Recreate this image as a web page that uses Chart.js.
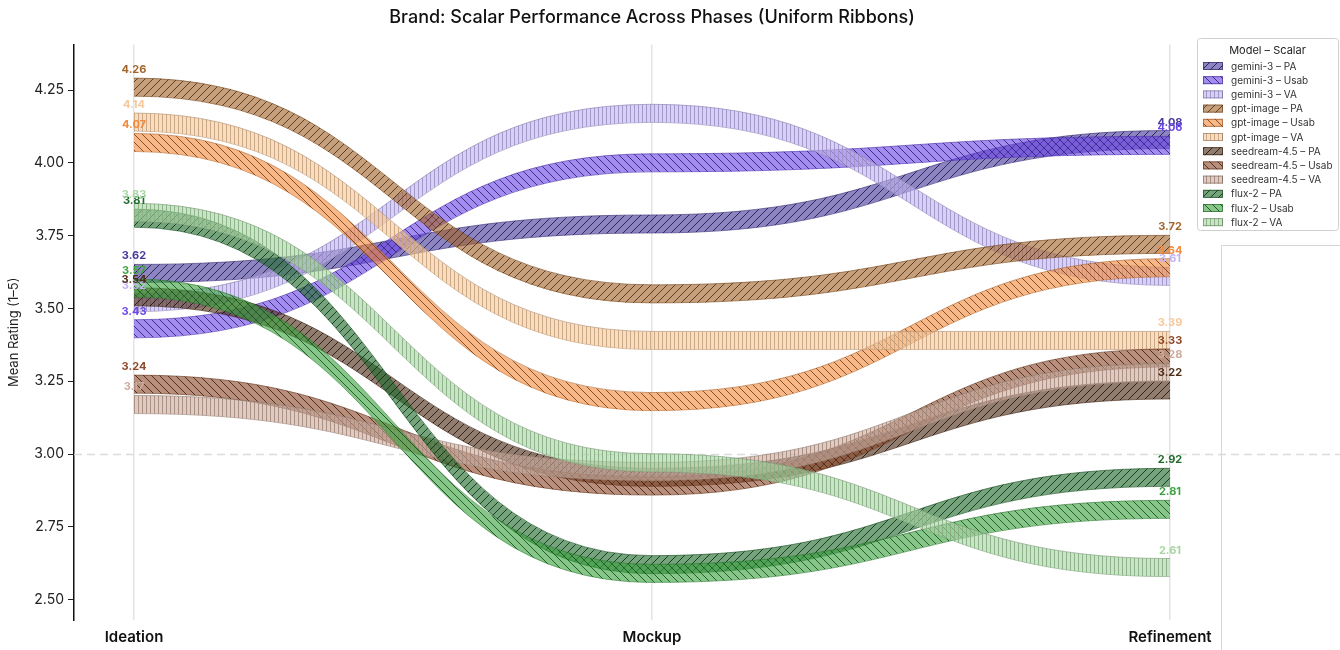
<!DOCTYPE html>
<html>
<head>
<meta charset="utf-8">
<script src="https://cdn.jsdelivr.net/npm/chart.js@4.4.1/dist/chart.umd.min.js"></script>
<style>
  html, body { margin: 0; padding: 0; background: #fff; }
  #wrap { width: 1340px; height: 650px; }
</style>
</head>
<body>
<div id="wrap"><canvas id="myChart" width="1340" height="650"></canvas></div>
<script>
// phases on the x axis
const phases = ['Ideation', 'Mockup', 'Refinement'];
const models = ['gemini-3', 'gpt-image', 'seedream-4.5', 'flux-2'];
const scalars = ['PA', 'Usab', 'VA'];

// mean ratings per phase (Ideation, Mockup, Refinement)
const gemini3PA = [3.62, 3.79, 4.08];
const gemini3Usab = [3.43, 4.00, 4.06];
const gemini3VA = [3.52, 4.17, 3.61];
const gptImagePA = [4.26, 3.55, 3.72];
const gptImageUsab = [4.07, 3.18, 3.64];
const gptImageVA = [4.14, 3.39, 3.39];
const seedreamPA = [3.54, 2.92, 3.22];
const seedreamUsab = [3.24, 2.89, 3.33];
const seedreamVA = [3.17, 2.94, 3.28];
const fluxPA = [3.81, 2.62, 2.92];
const fluxUsab = [3.57, 2.59, 2.81];
const fluxVA = [3.83, 2.97, 2.61];

const yTicks = [2.50, 2.75, 3.00, 3.25, 3.50, 3.75, 4.00, 4.25];

const series = [gemini3PA, gemini3Usab, gemini3VA, gptImagePA, gptImageUsab, gptImageVA,
                seedreamPA, seedreamUsab, seedreamVA, fluxPA, fluxUsab, fluxVA];

// colours, one per series
const colors = ['#473a9c', '#6c47e8', '#c2b3f3', '#a3642c', '#f28a3c', '#f6c89b',
                '#4e2d17', '#8d4b2b', '#cbab9c', '#1f6b2c', '#3ca341', '#a7d5a2'];

const halfWidth = 0.031; // ribbon half thickness (rating units)
const FONT = 'Inter, "DejaVu Sans", sans-serif';

function hexRgb(h) {
    return [parseInt(h.slice(1, 3), 16), parseInt(h.slice(3, 5), 16), parseInt(h.slice(5, 7), 16)];
}
function rgba(h, a, f) {
    f = f || 1;
    const c = hexRgb(h).map(v => Math.round(v * f));
    return `rgba(${c[0]},${c[1]},${c[2]},${a})`;
}

const ctx = document.getElementById('myChart').getContext('2d');

// hatched fill: PA = "/", Usab = "\", VA = "|"
function makePattern(color, kind) {
    const c = document.createElement('canvas');
    const s = kind === 'VA' ? 4 : 8;
    c.width = s; c.height = s;
    const g = c.getContext('2d');
    g.fillStyle = rgba(color, 0.62);
    g.fillRect(0, 0, s, s);
    g.strokeStyle = kind === 'VA' ? rgba(color, 0.9, 0.82) : rgba(color, 0.9, 0.5);
    g.lineWidth = 1;
    g.beginPath();
    if (kind === 'VA') {
        g.moveTo(2.5, 0); g.lineTo(2.5, s);
    } else if (kind === 'PA') {
        g.moveTo(0, s); g.lineTo(s, 0);
        g.moveTo(-1, 1); g.lineTo(1, -1);
        g.moveTo(s - 1, s + 1); g.lineTo(s + 1, s - 1);
    } else {
        g.moveTo(0, 0); g.lineTo(s, s);
        g.moveTo(-1, s - 1); g.lineTo(1, s + 1);
        g.moveTo(s - 1, -1); g.lineTo(s + 1, 1);
    }
    g.stroke();
    return ctx.createPattern(c, 'repeat');
}

const patterns = series.map((s, k) => makePattern(colors[k], scalars[k % 3]));
const names = series.map((s, k) => `${models[Math.floor(k / 3)]} \u2013 ${scalars[k % 3]}`);

// two edge lines per ribbon, upper one filled down to the lower one
const datasets = [];
series.forEach((vals, k) => {
    const common = {
        borderColor: rgba(colors[k], 0.75, 0.7),
        borderWidth: 0.8,
        pointRadius: 0,
        pointHoverRadius: 0,
        tension: 0.4,
        order: series.length - k
    };
    datasets.push(Object.assign({
        label: names[k],
        data: vals.map((v, i) => ({ x: i, y: v + halfWidth })),
        fill: '+1',
        backgroundColor: patterns[k]
    }, common));
    datasets.push(Object.assign({
        label: names[k] + ' low',
        data: vals.map((v, i) => ({ x: i, y: v - halfWidth })),
        fill: false
    }, common));
});

// make every ribbon leave and enter each phase flat (S-shaped bumps)
const flatTangents = {
    id: 'flatTangents',
    beforeDatasetsDraw(chart) {
        chart.getSortedVisibleDatasetMetas().forEach(meta => {
            const pts = meta.data;
            pts.forEach((p, i) => {
                const prev = pts[i - 1], next = pts[i + 1];
                p.cp1x = prev ? p.x - (p.x - prev.x) / 2 : p.x;
                p.cp1y = p.y;
                p.cp2x = next ? p.x + (next.x - p.x) / 2 : p.x;
                p.cp2y = p.y;
            });
            delete meta.dataset._path;
        });
        // dashed reference line at 3.00
        const c = chart.ctx, ys = chart.scales.y;
        const y = Math.round(ys.getPixelForValue(3)) + 0.5;
        c.save();
        c.strokeStyle = '#dcdcdc';
        c.lineWidth = 1.3;
        c.setLineDash([8, 5]);
        c.beginPath();
        c.moveTo(chart.chartArea.left, y);
        c.lineTo(chart.width, y);
        c.stroke();
        c.restore();
    }
};

// value labels at first and last phase + legend box
const extras = {
    id: 'extras',
    afterDatasetsDraw(chart) {
        const c = chart.ctx, xs = chart.scales.x, ys = chart.scales.y;
        c.save();
        c.font = `bold 11px ${FONT}`;
        c.textAlign = 'center';
        c.textBaseline = 'alphabetic';
        series.forEach((vals, k) => {
            [0, phases.length - 1].forEach(i => {
                const x = xs.getPixelForValue(i);
                const y = ys.getPixelForValue(vals[i] + halfWidth) - 5;
                c.fillStyle = colors[k];
                c.fillText(vals[i].toFixed(2), x, y);
            });
        });
        c.restore();
    },
    afterDraw(chart) {
        const c = chart.ctx;
        c.save();
        // faint frame at lower right
        c.strokeStyle = '#d6d6d6';
        c.lineWidth = 1;
        c.beginPath();
        c.moveTo(1221.5, 650);
        c.lineTo(1221.5, 245.5);
        c.lineTo(1340, 245.5);
        c.stroke();

        // legend
        const lx = 1197, ly = 38, lw = 141, lh = 192;
        c.fillStyle = 'rgba(255,255,255,0.92)';
        c.strokeStyle = '#d0d0d0';
        c.beginPath();
        c.roundRect(lx + 0.5, ly + 0.5, lw, lh, 3);
        c.fill();
        c.stroke();
        c.fillStyle = '#222';
        c.font = `11px ${FONT}`;
        c.textAlign = 'center';
        c.textBaseline = 'middle';
        c.fillText('Model \u2013 Scalar', lx + lw / 2, 51);
        c.textAlign = 'left';
        c.font = `10px ${FONT}`;
        names.forEach((n, k) => {
            const y = 66 + k * 14.2;
            c.fillStyle = '#fff';
            c.fillRect(lx + 6, y - 4, 20, 8);
            c.fillStyle = patterns[k];
            c.fillRect(lx + 6, y - 4, 20, 8);
            c.strokeStyle = rgba(colors[k], 0.8, 0.6);
            c.lineWidth = 0.8;
            c.strokeRect(lx + 6.5, y - 3.5, 19, 7);
            c.fillStyle = '#333';
            c.fillText(n, lx + 34, y + 0.5);
        });
        c.restore();
    }
};

const config = {
    type: 'line',
    data: { datasets: datasets },
    options: {
        responsive: false,
        animation: false,
        devicePixelRatio: 1,
        layout: { padding: { left: 0, right: 110, top: 0, bottom: 0 } },
        plugins: {
            legend: { display: false },
            tooltip: { enabled: false },
            title: {
                display: true,
                fullSize: false,
                text: 'Brand: Scalar Performance Across Phases (Uniform Ribbons)',
                color: '#111',
                font: { family: FONT, size: 18, weight: '500' },
                padding: { top: 7, bottom: 16 }
            }
        },
        scales: {
            x: {
                type: 'linear',
                min: -0.1158,
                max: 2.1158,
                afterBuildTicks: s => { s.ticks = phases.map((p, i) => ({ value: i })); },
                afterFit: s => { s.height = 30; },
                ticks: {
                    callback: v => phases[v],
                    color: '#111',
                    font: { family: FONT, size: 15, weight: '600' },
                    padding: 8,
                    maxRotation: 0
                },
                grid: { color: '#e4e4e4', lineWidth: 1.5, drawTicks: false },
                border: { display: false }
            },
            y: {
                type: 'linear',
                min: 2.43,
                max: 4.406,
                afterBuildTicks: s => { s.ticks = yTicks.map(v => ({ value: v })); },
                afterFit: s => { s.width = 74; },
                ticks: {
                    callback: v => v.toFixed(2),
                    color: '#222',
                    font: { family: FONT, size: 14 },
                    padding: 4
                },
                grid: { drawOnChartArea: false, drawTicks: true, tickLength: 6, color: '#222', tickWidth: 1 },
                border: { display: true, color: '#111', width: 1.5 },
                title: {
                    display: true,
                    text: 'Mean Rating (1\u20135)',
                    color: '#222',
                    font: { family: FONT, size: 13 },
                    padding: { top: 6, bottom: 0 }
                }
            }
        }
    },
    plugins: [flatTangents, extras]
};

const myChart = new Chart(document.getElementById('myChart'), config);
</script>
</body>
</html>
